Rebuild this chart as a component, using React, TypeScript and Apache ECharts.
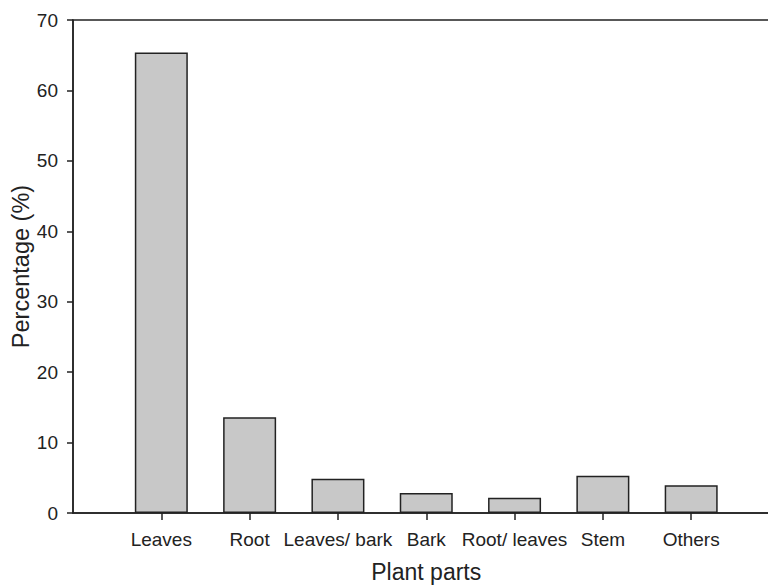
import React, { useEffect, useRef } from "react";
import * as echarts from "echarts";

const categories = ["", "Leaves", "Root", "Leaves/ bark", "Bark", "Root/ leaves", "Stem", "Others", ""];
const values: (number | null)[] = [null, 65.4, 13.6, 4.85, 2.85, 2.15, 5.3, 3.95, null];
const yTicks = { min: 0, max: 70, interval: 10 };

const FONT = "Liberation Sans, Arial, sans-serif";
const INK = "#222222";

export default function App() {
  const ref = useRef<HTMLDivElement>(null);
  useEffect(() => {
    if (!ref.current) return;
    const chart = echarts.init(ref.current, null, { renderer: "svg" });
    chart.setOption({
      animation: false,
      backgroundColor: "#ffffff",
      grid: {
        left: 73,
        top: 20,
        bottom: 72,
        right: 20.5,
        outerBoundsMode: "none",
        containLabel: false,
        show: true,
        borderColor: INK,
        borderWidth: 1.5,
        backgroundColor: "transparent",
      },
      xAxis: {
        type: "category",
        data: categories,
        boundaryGap: false,
        name: "Plant parts",
        nameLocation: "middle",
        nameMoveOverlap: false,
        nameGap: 47,
        nameTextStyle: { fontFamily: FONT, fontSize: 23, color: INK },
        axisLine: { show: true, lineStyle: { color: INK, width: 1.5 } },
        axisTick: {
          show: true,
          inside: false,
          length: 7,
          interval: (i: number, v: string) => v !== "",
          lineStyle: { color: INK, width: 1.5 },
        },
        axisLabel: {
          interval: 0,
          margin: 17,
          fontFamily: FONT,
          fontSize: 19,
          color: INK,
        },
        splitLine: { show: false },
      },
      yAxis: {
        type: "value",
        min: yTicks.min,
        max: yTicks.max,
        interval: yTicks.interval,
        name: "Percentage (%)",
        nameLocation: "middle",
        nameMoveOverlap: false,
        nameRotate: 90,
        nameGap: 40,
        nameTextStyle: { fontFamily: FONT, fontSize: 23.5, color: INK },
        axisLine: { show: true, lineStyle: { color: INK, width: 1.5 } },
        axisTick: { show: true, inside: false, length: 6, lineStyle: { color: INK, width: 1.5 } },
        axisLabel: { margin: 15, fontFamily: FONT, fontSize: 19, color: INK },
        splitLine: { show: false },
      },
      series: [
        {
          type: "bar",
          data: values,
          barWidth: 53,
          itemStyle: { color: "#c8c8c8", borderColor: INK, borderWidth: 1.5 },
        },
      ],
    });
    return () => chart.dispose();
  }, []);
  return (
    <div style={{ position: "fixed", left: 0, top: 0, width: 768, height: 585, overflow: "hidden", background: "#fff" }}>
      <div ref={ref} style={{ width: 800, height: 585 }} />
    </div>
  );
}
